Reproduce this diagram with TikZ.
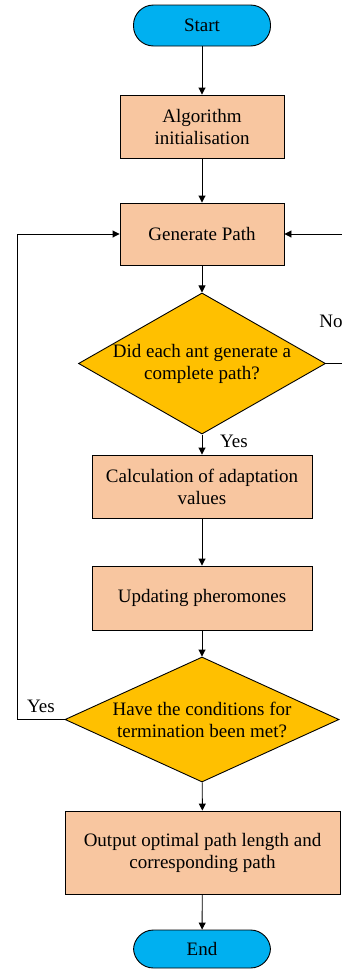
\documentclass[tikz,border=0pt]{standalone}
\usepackage{fontspec}
\setmainfont{Liberation Serif}
\usetikzlibrary{shapes.geometric,arrows.meta}
\definecolor{pillc}{HTML}{00B0F0}
\definecolor{boxc}{HTML}{F8C6A0}
\definecolor{decc}{HTML}{FFC000}
\begin{document}
\begin{tikzpicture}[x=1pt,y=-1pt,
  every node/.style={font=\fontsize{19}{22}\selectfont},
  pill/.style={draw,line width=0.9pt,fill=pillc,rounded corners=20pt,minimum width=137pt,minimum height=41pt,inner sep=0pt},
  procbox/.style={draw,line width=0.9pt,fill=boxc,inner sep=0pt,align=center},
  decbox/.style={draw,line width=0.9pt,fill=decc,diamond,inner sep=0pt,align=center},
  conn/.style={line width=0.9pt,-{Triangle[length=7pt,width=7pt]}},
  lab/.style={inner sep=0pt}]
\useasboundingbox (0,0) rectangle (341,972);
\node[pill] (start) at (202,25.5) {Start};
\node[procbox,minimum width=164pt,minimum height=63pt] (init) at (202,126.5) {Algorithm\\initialisation};
\node[procbox,minimum width=164pt,minimum height=62pt] (gen) at (202,234) {Generate Path};
\node[decbox,minimum width=247pt,minimum height=141pt,aspect=1.75] (d1) at (202,363.5) {Did each ant generate a\\complete path?};
\node[procbox,minimum width=220pt,minimum height=63pt] (calc) at (202,486.5) {Calculation of adaptation\\values};
\node[procbox,minimum width=220pt,minimum height=64pt] (upd) at (202,598) {Updating pheromones};
\node[decbox,minimum width=274pt,minimum height=125pt,aspect=2.19] (d2) at (202,719.5) {Have the conditions for\\termination been met?};
\node[procbox,minimum width=275pt,minimum height=83pt] (out) at (202.5,852.5) {Output optimal path length and\\corresponding path};
\node[pill,minimum height=38pt] (end) at (202,949) {End};
\coordinate (r1) at (343,363.5);
\coordinate (r2) at (343,234);
\coordinate (l1) at (17,719.5);
\coordinate (l2) at (17,234);
\draw[conn] (start) -- (init);
\draw[conn] (init) -- (gen);
\draw[conn] (gen) -- (d1);
\draw[conn] (d1) -- (calc);
\draw[conn] (calc) -- (upd);
\draw[conn] (upd) -- (d2);
\draw[conn] (d2) -- (out);
\draw[conn] (out) -- (end);
\draw[conn] (d1.east) -- (r1) -- (r2) -- (gen.east);
\draw[conn] (d2.west) -- (l1) -- (l2) -- (gen.west);
\node[lab] (no) at (331,321) {No};
\node[lab] (yes1) at (234,441) {Yes};
\node[lab] (yes2) at (41,706) {Yes};
\end{tikzpicture}
\end{document}
